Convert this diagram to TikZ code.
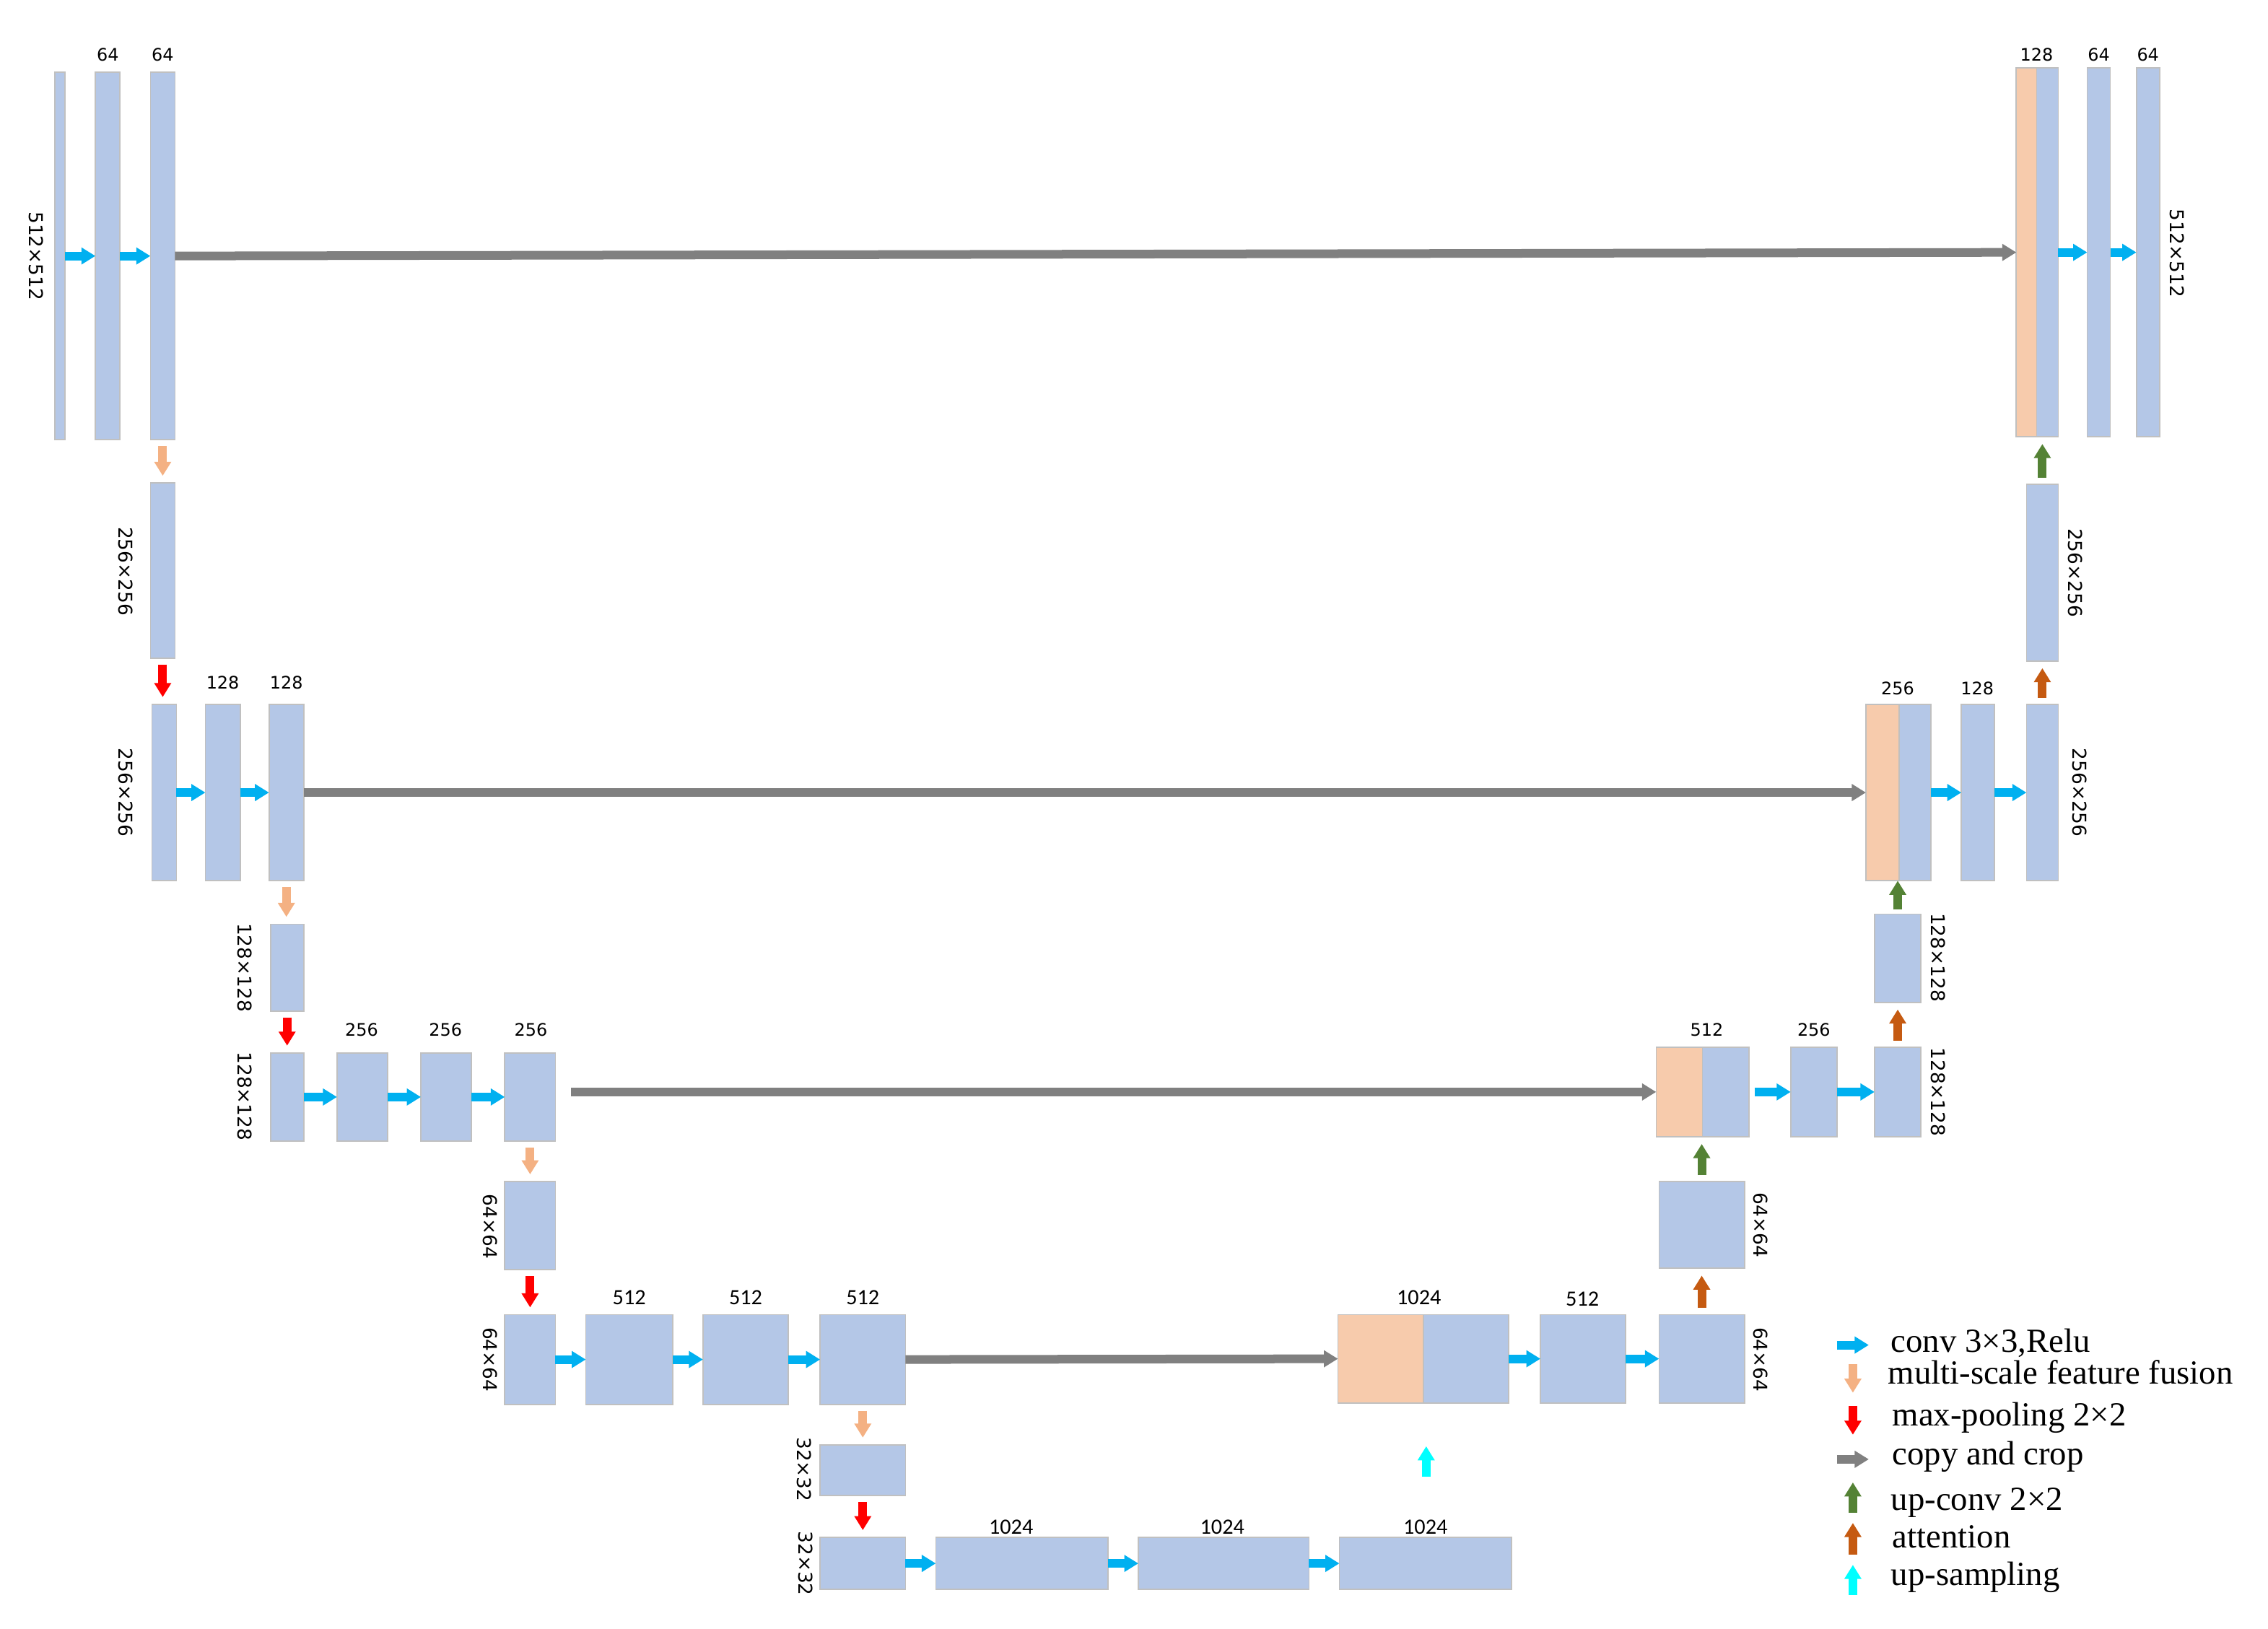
\documentclass[tikz,border=0pt]{standalone}
\usepackage{fontspec}
\setmainfont{Liberation Serif}
\newfontfamily\labfont{DejaVu Sans}
\newfontfamily\labcfont{Carlito}
\usetikzlibrary{arrows.meta,fit}
\definecolor{barc}{HTML}{B4C7E7}
\definecolor{catc}{HTML}{F7CBAC}
\definecolor{edgec}{HTML}{C0C0C0}
\definecolor{convc}{HTML}{00B0F0}
\definecolor{msc}{HTML}{F4B183}
\definecolor{poolc}{HTML}{FF0000}
\definecolor{copyc}{HTML}{808080}
\definecolor{upc}{HTML}{548235}
\definecolor{attc}{HTML}{C55A11}
\definecolor{sampc}{HTML}{00FFFF}
\begin{document}
\begin{tikzpicture}[x=0.02004cm,y=-0.02004cm,
  bar/.style={draw=edgec, line width=0.5pt, fill=barc, inner sep=0pt, outer sep=0pt},
  cat/.style={bar, fill=catc},
  blk/.style={line width=1.2mm, -{Triangle[width=2.25mm,length=1.95mm]}},
  conv/.style={blk, draw=convc},
  copyarr/.style={blk, draw=copyc},
  vgap/.style={shorten <=0.09cm, shorten >=0.1cm},
  msarr/.style={blk, draw=msc, vgap},
  poolarr/.style={blk, draw=poolc, vgap},
  uparr/.style={blk, draw=upc, vgap},
  attarr/.style={blk, draw=attc, vgap},
  samparr/.style={blk, draw=sampc},
  num/.style={font=\labfont\fontsize{6.8}{8}\selectfont, inner sep=0pt},
  numc/.style={font=\labcfont\fontsize{8.6}{10}\selectfont, inner sep=0pt},
  dim/.style={font=\labfont\fontsize{7.5}{9}\selectfont, inner sep=0pt, rotate=-90},
  leg/.style={font=\fontsize{13.3}{15}\selectfont, inner sep=0pt, anchor=mid west}
]
\useasboundingbox (0,0) rectangle (1568,1126);

% ---------- Row 1 (512x512) ----------
\node[bar, fit={(38,50)(45,304)}] (I) {};
\node[bar, fit={(66,50)(83,304)}] (L12) {};
\node[bar, fit={(104,50)(121,304)}] (L13) {};
\node[num] (tL12) at (74.5,38) {64};
\node[num] (tL13) at (112.5,38) {64};
\node[dim] (dI) at (25,177) {512×512};

\node[cat, fit={(1394,47)(1408,302)}] (R1o) {};
\node[bar, fit={(1408,47)(1423,302)}] (R1b) {};
\node[bar, fit={(1443,47)(1459,302)}] (R12) {};
\node[bar, fit={(1477,47)(1493,302)}] (R13) {};
\node[num] (tR1) at (1408,38) {128};
\node[num] (tR12) at (1451,38) {64};
\node[num] (tR13) at (1485,38) {64};
\node[dim] (dR1) at (1505,175) {512×512};

% ---------- left down 1 ----------
\node[bar, fit={(104,334)(121,455)}] (D1) {};
\node[dim] (dD1) at (87,395) {256×256};

% ---------- Row 2 (256x256) ----------
\node[bar, fit={(105,487)(122,609)}] (L21) {};
\node[bar, fit={(142,487)(166,609)}] (L22) {};
\node[bar, fit={(186,487)(210,609)}] (L23) {};
\node[num] (tL22) at (154,472) {128};
\node[num] (tL23) at (198,472) {128};
\node[dim] (dL21) at (87,548) {256×256};

\node[cat, fit={(1290,487)(1313,609)}] (R2o) {};
\node[bar, fit={(1313,487)(1335,609)}] (R2b) {};
\node[bar, fit={(1356,487)(1379,609)}] (R22) {};
\node[bar, fit={(1401,487)(1423,609)}] (R23) {};
\node[num] (tR2) at (1312,476) {256};
\node[num] (tR22) at (1367,476) {128};
\node[dim] (dR23) at (1438,548) {256×256};

\node[bar, fit={(1401,335)(1423,457)}] (U2) {};
\node[dim] (dU2) at (1435,396) {256×256};

% ---------- left down 2 ----------
\node[bar, fit={(187,639)(210,699)}] (D2) {};
\node[dim] (dD2) at (169,669) {128×128};

% ---------- Row 3 (128x128) ----------
\node[bar, fit={(187,728)(210,789)}] (L31) {};
\node[bar, fit={(233,728)(268,789)}] (L32) {};
\node[bar, fit={(291,728)(326,789)}] (L33) {};
\node[bar, fit={(349,728)(384,789)}] (L34) {};
\node[num] (tL32) at (250,712) {256};
\node[num] (tL33) at (308,712) {256};
\node[num] (tL34) at (367,712) {256};
\node[dim] (dL31) at (169,758) {128×128};

\node[cat, fit={(1145,724)(1177,786)}] (R3o) {};
\node[bar, fit={(1177,724)(1209,786)}] (R3b) {};
\node[bar, fit={(1238,724)(1270,786)}] (R32) {};
\node[bar, fit={(1296,724)(1328,786)}] (R33) {};
\node[num] (tR3) at (1180,712) {512};
\node[num] (tR32) at (1254,712) {256};
\node[dim] (dR33) at (1340,755) {128×128};

\node[bar, fit={(1296,632)(1328,693)}] (U3) {};
\node[dim] (dU3) at (1340,662) {128×128};

% ---------- left down 3 ----------
\node[bar, fit={(349,817)(384,878)}] (D3) {};
\node[dim] (dD3) at (339,848) {64×64};

% ---------- Row 4 (64x64) ----------
\node[bar, fit={(349,909)(384,971)}] (L41) {};
\node[bar, fit={(405,909)(465,971)}] (L42) {};
\node[bar, fit={(486,909)(545,971)}] (L43) {};
\node[bar, fit={(567,909)(626,971)}] (L44) {};
\node[numc] (tL42) at (435,897) {512};
\node[numc] (tL43) at (515.5,897) {512};
\node[numc] (tL44) at (596.5,897) {512};
\node[dim] (dL41) at (339,940) {64×64};

\node[cat, fit={(925,909)(984,970)}] (R4o) {};
\node[bar, fit={(984,909)(1043,970)}] (R4b) {};
\node[bar, fit={(1065,909)(1124,970)}] (R42) {};
\node[bar, fit={(1147,909)(1206,970)}] (R43) {};
\node[numc] (tR4) at (981,897) {1024};
\node[numc] (tR42) at (1094,898) {512};
\node[dim] (dR43) at (1217,940) {64×64};

\node[bar, fit={(1147,817)(1206,877)}] (U4) {};
\node[dim] (dU4) at (1217,847) {64×64};

% ---------- left down 4 ----------
\node[bar, fit={(567,999)(626,1034)}] (D4) {};
\node[dim] (dD4) at (556,1016) {32×32};

% ---------- Row 5 (32x32) ----------
\node[bar, fit={(567,1063)(626,1099)}] (B1) {};
\node[bar, fit={(647,1063)(766,1099)}] (B2) {};
\node[bar, fit={(787,1063)(905,1099)}] (B3) {};
\node[bar, fit={(926,1063)(1045,1099)}] (B4) {};
\node[numc] (tB2) at (699,1056) {1024};
\node[numc] (tB3) at (845,1056) {1024};
\node[numc] (tB4) at (985.5,1056) {1024};
\node[dim] (dB1) at (557,1081) {32×32};

% ---------- conv arrows ----------
\draw[conv] (I.east) -- (L12.west);
\draw[conv] (L12.east) -- (L13.west);
\draw[conv] (R1b.east) -- (R12.west);
\draw[conv] (R12.east) -- (R13.west);
\draw[conv] (L21.east) -- (L22.west);
\draw[conv] (L22.east) -- (L23.west);
\draw[conv] (R2b.east) -- (R22.west);
\draw[conv] (R22.east) -- (R23.west);
\draw[conv] (L31.east) -- (L32.west);
\draw[conv] (L32.east) -- (L33.west);
\draw[conv] (L33.east) -- (L34.west);
\draw[conv, shorten <=0.08cm] (R3b.east) -- (R32.west);
\draw[conv] (R32.east) -- (R33.west);
\draw[conv] (L41.east) -- (L42.west);
\draw[conv] (L42.east) -- (L43.west);
\draw[conv] (L43.east) -- (L44.west);
\draw[conv] (R4b.east) -- (R42.west);
\draw[conv] (R42.east) -- (R43.west);
\draw[conv] (B1.east) -- (B2.west);
\draw[conv] (B2.east) -- (B3.west);
\draw[conv] (B3.east) -- (B4.west);

% ---------- copy and crop ----------
\draw[copyarr] (L13.east) -- (R1o.west);
\draw[copyarr] (L23.east) -- (R2o.west);
\draw[copyarr, shorten <=0.22cm] (L34.east |- R3o.west) -- (R3o.west);
\draw[copyarr] (L44.east) -- (R4o.west);

% ---------- down path ----------
\draw[msarr] (L13.south) -- (L13.south |- D1.north);
\draw[poolarr] (D1.south) -- (D1.south |- L21.north);
\draw[msarr] (L23.south) -- (L23.south |- D2.north);
\draw[poolarr] (D2.south) -- (D2.south |- L31.north);
\draw[msarr] (L34.south) -- (L34.south |- D3.north);
\draw[poolarr] (D3.south) -- (D3.south |- L41.north);
\draw[msarr] (L44.south) -- (L44.south |- D4.north);
\draw[poolarr] (D4.south) -- (D4.south |- B1.north);

% ---------- up path ----------
\draw[attarr] (R43.north) -- (R43.north |- U4.south);
\draw[uparr] (U4.north) -- (U4.north |- R3o.south);
\draw[attarr] (R33.north) -- (R33.north |- U3.south);
\draw[blk, draw=upc, shorten <=0.06cm] (U3.north) -- (U3.north |- R2o.south);
\draw[attarr] (R23.north) -- (R23.north |- U2.south);
\draw[uparr] (U2.north) -- (U2.north |- R1o.south);

\coordinate (cs1) at (986,1021);
\coordinate (cs2) at (986,1000);
\draw[samparr] (cs1) -- (cs2);

% ---------- legend ----------
\coordinate (lc1) at (1270,930);  \coordinate (lc2) at (1292,930);
\coordinate (lm1) at (1281,943);  \coordinate (lm2) at (1281,963);
\coordinate (lp1) at (1281,972);  \coordinate (lp2) at (1281,992);
\coordinate (lk1) at (1270,1009); \coordinate (lk2) at (1292,1009);
\coordinate (lu1) at (1281,1046); \coordinate (lu2) at (1281,1025);
\coordinate (la1) at (1281,1075); \coordinate (la2) at (1281,1053);
\coordinate (ls1) at (1281,1103); \coordinate (ls2) at (1281,1082);
\draw[conv] (lc1) -- (lc2);
\draw[blk, draw=msc] (lm1) -- (lm2);
\draw[blk, draw=poolc] (lp1) -- (lp2);
\draw[copyarr] (lk1) -- (lk2);
\draw[blk, draw=upc] (lu1) -- (lu2);
\draw[blk, draw=attc] (la1) -- (la2);
\draw[samparr] (ls1) -- (ls2);
\node[leg] (gc) at (1307,931) {conv 3×3,Relu};
\node[leg] (gm) at (1305,953) {multi-scale feature fusion};
\node[leg] (gp) at (1308,982) {max-pooling 2×2};
\node[leg] (gk) at (1308,1009) {copy and crop};
\node[leg] (gu) at (1307,1040) {up-conv 2×2};
\node[leg] (ga) at (1308,1066) {attention};
\node[leg] (gs) at (1307,1092) {up-sampling};
\end{tikzpicture}
\end{document}
